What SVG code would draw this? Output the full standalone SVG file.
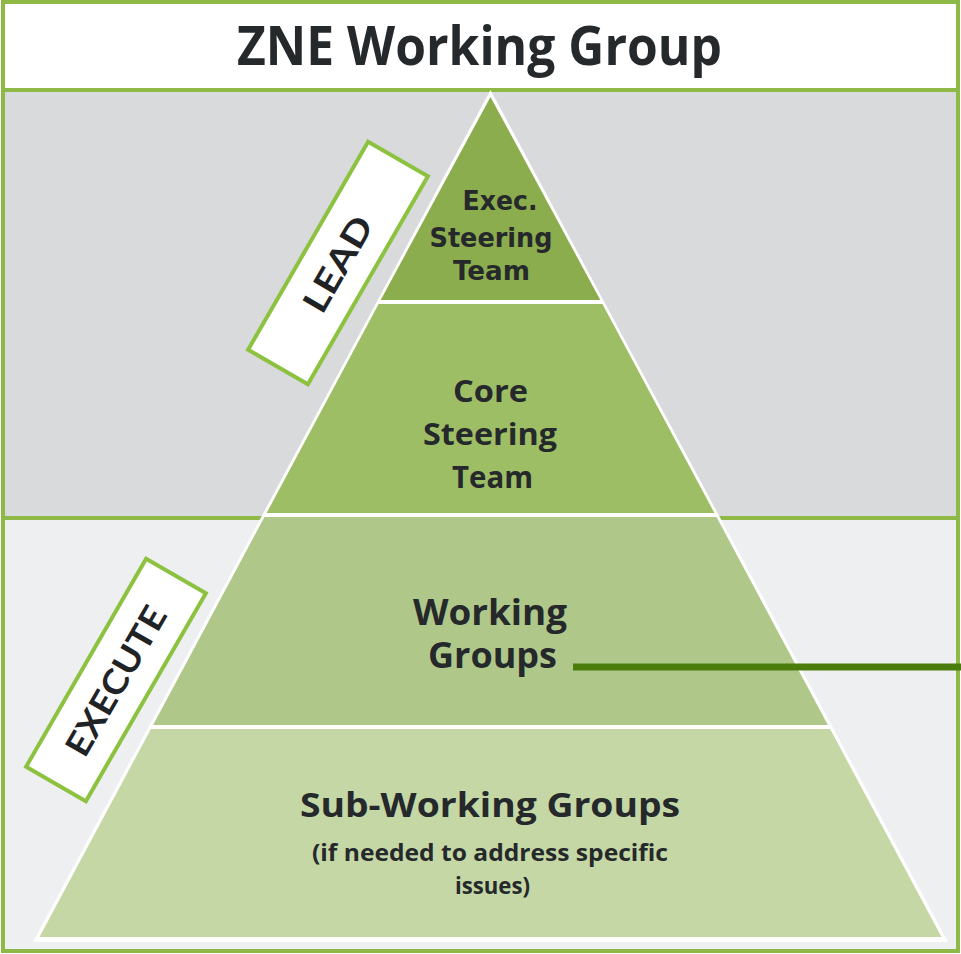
<svg xmlns="http://www.w3.org/2000/svg" width="961" height="954" viewBox="0 0 961 954">
  <style>
    .frame { fill: none; stroke: #8fb947; stroke-width: 4; }
    .label-box { fill: #ffffff; stroke: #8cc240; stroke-width: 4; }
    .t-cal { font-family: "Open Sans", "Liberation Sans", sans-serif; font-weight: bold; fill: #26292b; text-anchor: middle; }
    .t-ver { font-family: "DejaVu Sans", "Liberation Sans", sans-serif; font-weight: bold; fill: #26292b; text-anchor: middle; }
    .t-lab { font-family: Lato, "Open Sans", sans-serif; font-weight: bold; fill: #1f2326; text-anchor: middle; }
    .conn { stroke: #4b7d0c; stroke-width: 7; fill: none; }
  </style>

  <!-- backgrounds -->
  <rect x="0" y="0" width="961" height="954" fill="#ffffff"/>
  <rect x="4" y="90" width="953" height="428" fill="#d9dadc"/>
  <rect x="4" y="518" width="953" height="432" fill="#eeeff1"/>

  <!-- title -->
  <g id="title">
    <rect x="3" y="2" width="955" height="88" fill="#ffffff" class="frame"/>
    <text class="t-cal" x="479.5" y="65" font-size="53" textLength="485" lengthAdjust="spacingAndGlyphs">ZNE Working Group</text>
  </g>

  <!-- outer frame & divider -->
  <rect x="3" y="2" width="955" height="949" class="frame"/>
  <line x1="3" y1="518" x2="958" y2="518" stroke="#8fb947" stroke-width="4"/>

  <!-- white pyramid outline -->
  <polygon points="490.5,90 33,942 948,942" fill="#ffffff"/>

  <g id="exec-steering-team">
    <polygon points="490.5,97 380.7,300 600.3,300" fill="#8cad4e"/>
    <text class="t-ver" x="500" y="210" font-size="26" textLength="75" lengthAdjust="spacingAndGlyphs">Exec.</text>
    <text class="t-ver" x="491" y="247" font-size="26" textLength="123" lengthAdjust="spacingAndGlyphs">Steering</text>
    <text class="t-ver" x="491.5" y="280" font-size="26" textLength="77" lengthAdjust="spacingAndGlyphs">Team</text>
  </g>

  <g id="core-steering-team">
    <polygon points="378.6,304 602.4,304 714.4,513 266.6,513" fill="#9ebe66"/>
    <text class="t-cal" x="490.5" y="402" font-size="30" textLength="75" lengthAdjust="spacingAndGlyphs">Core</text>
    <text class="t-cal" x="490" y="445" font-size="30" textLength="134" lengthAdjust="spacingAndGlyphs">Steering</text>
    <text class="t-cal" x="492.5" y="488" font-size="30" textLength="81" lengthAdjust="spacingAndGlyphs">Team</text>
  </g>

  <g id="working-groups">
    <polygon points="264.5,517 716.5,517 827.9,725 153.1,725" fill="#afc889"/>
    <text class="t-cal" x="490" y="625" font-size="35" textLength="154" lengthAdjust="spacingAndGlyphs">Working</text>
    <text class="t-cal" x="492.5" y="668" font-size="35" textLength="129" lengthAdjust="spacingAndGlyphs">Groups</text>
  </g>

  <g id="sub-working-groups">
    <polygon points="150.9,729 830.1,729 941.5,937 39.5,937" fill="#c4d7a5"/>
    <text class="t-cal" x="490" y="817" font-size="34" textLength="380" lengthAdjust="spacingAndGlyphs">Sub-Working Groups</text>
    <text class="t-cal" x="490" y="861" font-size="23" textLength="356" lengthAdjust="spacingAndGlyphs">(if needed to address specific</text>
    <text class="t-cal" x="492.5" y="894" font-size="23" textLength="75" lengthAdjust="spacingAndGlyphs">issues)</text>
  </g>

  <g id="lead-label">
    <rect class="label-box" x="-120" y="-34.5" width="240" height="69" transform="translate(338,263) rotate(-60)"/>
    <text class="t-lab" x="0" y="12" font-size="34" textLength="105" lengthAdjust="spacingAndGlyphs" transform="translate(338,264) rotate(-60)">LEAD</text>
  </g>

  <g id="execute-label">
    <rect class="label-box" x="-120" y="-34.5" width="240" height="69" transform="translate(116,680) rotate(-60)"/>
    <text class="t-lab" x="0" y="12" font-size="34" textLength="167" lengthAdjust="spacingAndGlyphs" transform="translate(116,681) rotate(-60)">EXECUTE</text>
  </g>

  <g id="connectors">
    <line class="conn" x1="573" y1="667" x2="961" y2="667"/>
  </g>
</svg>
